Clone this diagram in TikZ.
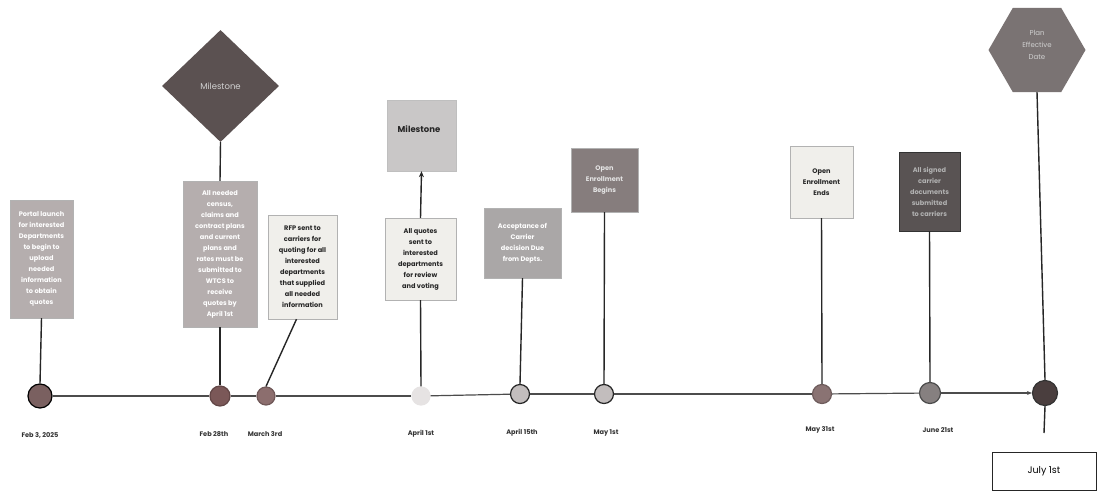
\documentclass[tikz,border=0pt]{standalone}
\usepackage{fontspec}
\setmainfont{Poppins}
\usetikzlibrary{shapes.geometric,arrows.meta}
\definecolor{gA}{HTML}{B5AEAE}
\definecolor{gLight}{HTML}{F0EFEB}
\definecolor{gMs}{HTML}{C9C7C7}
\definecolor{gMid}{HTML}{AAA7A7}
\definecolor{gDark}{HTML}{867D7D}
\definecolor{gVery}{HTML}{595353}
\definecolor{gDia}{HTML}{5B5151}
\definecolor{gHex}{HTML}{7A7373}
\definecolor{dotA}{HTML}{7A6060}
\definecolor{dotB}{HTML}{7B5858}
\definecolor{dotC}{HTML}{8C6E6E}
\definecolor{dotD}{HTML}{E6E3E3}
\definecolor{dotE}{HTML}{C2BDBD}
\definecolor{dotF}{HTML}{8A7373}
\definecolor{dotG}{HTML}{868080}
\definecolor{dotH}{HTML}{4A3E3E}
\begin{document}
\begin{tikzpicture}[x=1pt,y=-1pt,
  conn/.style={draw=black!85, line width=1.4pt},
  tline/.style={draw=black!70, line width=1.2pt},
  dot/.style={circle, inner sep=0pt, line width=1.2pt},
  evbox/.style={rectangle, inner sep=0pt, align=center, draw=black!30, line width=0.4pt,
    font=\fontsize{6.6}{11}\selectfont\bfseries},
  datelbl/.style={font=\fontsize{6.6}{7.5}\selectfont\bfseries, text=black!80, inner sep=0pt},
]
\useasboundingbox (0,0) rectangle (1099,497);
\fill[white] (0,0) rectangle (1099,497);

% timeline dots
\node[dot, minimum size=24pt, fill=dotA, draw=black] (c1) at (40,396) {};
\node[dot, minimum size=20pt, fill=dotB, draw=dotB!80!black] (c2) at (220,396) {};
\node[dot, minimum size=18pt, fill=dotC, draw=dotC!80!black] (c3) at (266,396) {};
\node[dot, minimum size=18pt, fill=dotD, draw=dotD] (c4) at (421,396) {};
\node[dot, minimum size=19pt, fill=dotE, draw=black!85] (c5) at (520,394) {};
\node[dot, minimum size=19pt, fill=dotE, draw=black!85] (c6) at (604,394) {};
\node[dot, minimum size=19pt, fill=dotF, draw=dotF!80!black] (c7) at (822,394) {};
\node[dot, minimum size=21pt, fill=dotG, draw=black!70] (c8) at (930,393) {};
\node[dot, minimum size=25pt, fill=dotH, draw=black!80] (c9) at (1045,393) {};

% timeline
\draw[tline] (c1) -- (c2);
\draw[tline] (c2) -- (c3);
\draw[tline] (c3) -- (c4);
\draw[tline] (c4) -- (c5);
\draw[tline] (c5) -- (c6);
\draw[tline] (c6) -- (c7);
\draw[tline] (c7) -- (c8);
\draw[tline, -{Stealth[length=5pt,width=4pt]}] (c8) -- (c9);

% event boxes
\node[evbox, minimum width=63pt, minimum height=118pt, fill=gA, text=white] (b1) at (41.5,259)
  {Portal launch\\for interested\\Departments\\to begin to\\upload\\needed\\information\\to obtain\\quotes};
\node[diamond, inner sep=0pt, minimum width=117pt, minimum height=112pt, fill=gDia,
  font=\fontsize{8.5}{9}\selectfont, text=white!82!black] (dia) at (220.5,86) {Milestone};
\node[evbox, minimum width=74pt, minimum height=146pt, fill=gA, text=white] (b2) at (220,254)
  {All needed\\census,\\claims and\\contract plans\\and current\\plans and\\rates must be\\submitted to\\WTCS to\\receive\\quotes by\\April 1st};
\node[evbox, minimum width=69pt, minimum height=104pt, fill=gLight, text=black!85] (b3) at (302.5,267)
  {RFP sent to\\carriers for\\quoting for all\\interested\\departments\\that supplied\\all needed\\information};
\node[rectangle, inner sep=0pt, minimum width=69pt, minimum height=71pt, fill=gMs, draw=black!25,
  line width=0.4pt] (ms) at (421.5,135.5) {};
\node[font=\fontsize{8.5}{10}\selectfont\bfseries, text=black!85, inner sep=0pt] (mst) at (419,129) {Milestone};
\node[evbox, minimum width=71pt, minimum height=82pt, fill=gLight, text=black!85] (b4) at (420.5,259)
  {All quotes\\sent to\\interested\\departments\\for review\\and voting};
\node[evbox, minimum width=77pt, minimum height=70pt, fill=gMid, text=white] (b5) at (522.5,243)
  {Acceptance of\\Carrier\\decision Due\\from Depts.};
\node[evbox, minimum width=67pt, minimum height=64pt, fill=gDark, text=white!90!black] (b6) at (604.5,180)
  {Open\\Enrollment\\Begins};
\node[evbox, minimum width=63pt, minimum height=72pt, fill=gLight, text=black!85] (b7) at (821.5,182)
  {Open\\Enrollment\\Ends};
\node[evbox, minimum width=61pt, minimum height=79pt, fill=gVery, draw=black!80, text=white!70!black] (b8) at (929.5,191.5)
  {All signed\\carrier\\documents\\submitted\\to carriers};
\node[regular polygon, regular polygon sides=6, inner sep=0pt, minimum size=97pt, fill=gHex] (hex) at (1037,50) {};
\node[align=center, font=\fontsize{7}{12}\selectfont, text=white!82!black, inner sep=0pt] (hext) at (1037,45)
  {Plan\\Effective\\Date};
\node[rectangle, draw=black!85, line width=0.8pt, minimum width=104pt, minimum height=38pt,
  font=\fontsize{9.5}{11}\selectfont] (jb) at (1044,471) {July 1st};
\coordinate (jend) at (1044,433);

% connectors
\draw[conn] (b1.south) -- (c1.north);
\draw[conn] (dia.south) -- (b2.north);
\draw[conn] (b2.south) -- (c2.north);
\draw[conn] ([xshift=-6pt]b3.south) -- (c3.north);
\draw[conn, -{Stealth[length=6pt,width=5pt]}] (b4.north) -- (ms.south);
\draw[conn] (b4.south) -- (c4.north);
\draw[conn] (b5.south) -- (c5.north);
\draw[conn] (b6.south) -- (c6.north);
\draw[conn] (b7.south) -- (c7.north);
\draw[conn] (b8.south) -- (c8.north);
\draw[conn] (hex.south) -- (c9.north);
\draw[conn] (c9.south) -- (jend);

% date labels
\node[datelbl] (d1) at (40,435) {Feb 3, 2025};
\node[datelbl] (d2) at (214,434) {Feb 28th};
\node[datelbl] (d3) at (265,434) {March 3rd};
\node[datelbl] (d4) at (421,434) {April 1st};
\node[datelbl] (d5) at (522,433) {April 15th};
\node[datelbl] (d6) at (606,433) {May 1st};
\node[datelbl] (d7) at (820,430) {May 31st};
\node[datelbl] (d8) at (938,430) {June 21st};
\end{tikzpicture}
\end{document}
